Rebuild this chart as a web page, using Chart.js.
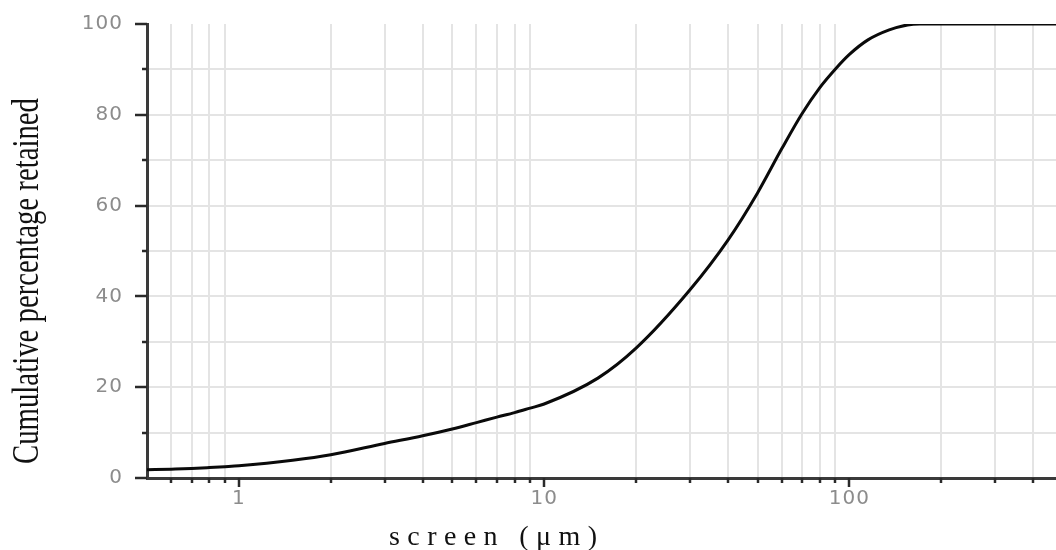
<!DOCTYPE html>
<html>
<head>
<meta charset="utf-8">
<script src="https://cdn.jsdelivr.net/npm/chart.js@4/dist/chart.umd.min.js"></script>
<style>
  html, body { margin: 0; padding: 0; background: #fff; overflow: hidden; }
  #wrap { width: 1056px; height: 550px; position: relative; }
</style>
</head>
<body>
<div id="wrap"><canvas id="c"></canvas></div>
<script>
// ---- data ----
const sizes = [0.5, 0.6, 0.7, 0.8, 0.9, 1, 1.5, 2, 3, 4, 5, 6, 7, 8, 9, 10, 15, 20, 30, 40, 50, 60, 70, 80, 90, 100, 115, 135, 155, 170, 200, 300, 475];
const retained = [1.8, 1.95, 2.1, 2.3, 2.5, 2.7, 3.9, 5.1, 7.6, 9.3, 10.8, 12.2, 13.4, 14.4, 15.4, 16.3, 22.0, 28.6, 41.4, 52.4, 62.8, 72.5, 80.3, 86.0, 90.1, 93.3, 96.5, 98.7, 99.8, 100, 100, 100, 100];
const xMajorTicks = [1, 10, 100];
const xMinorTicks = [0.6, 0.7, 0.8, 0.9, 2, 3, 4, 5, 6, 7, 8, 9, 20, 30, 40, 50, 60, 70, 80, 90, 200, 300, 400];
const yTicks = [0, 10, 20, 30, 40, 50, 60, 70, 80, 90, 100];
const yLabelStep = 20;
const xTitle = 'screen (\u03bcm)';
const yTitle = 'Cumulative percentage retained';

const xTickList = xMajorTicks.concat(xMinorTicks).sort((a, b) => a - b);

const tickMarks = {
  id: 'tickMarks',
  beforeDraw(chart) { chart.ctx.letterSpacing = '1px'; },
  afterDraw(chart) {
    const ctx = chart.ctx;
    ctx.letterSpacing = '0px';
    const xs = chart.scales.x, ys = chart.scales.y;
    const area = chart.chartArea;
    ctx.save();
    ctx.strokeStyle = '#2a2a2a';
    ctx.lineWidth = 2.5;
    xTickList.forEach(v => {
      const px = Math.round(xs.getPixelForValue(v));
      const len = xMajorTicks.includes(v) ? 9 : 5;
      ctx.beginPath();
      ctx.moveTo(px, area.bottom);
      ctx.lineTo(px, area.bottom + len);
      ctx.stroke();
    });
    yTicks.forEach(v => {
      const py = Math.round(ys.getPixelForValue(v));
      const len = (v % yLabelStep === 0) ? 12 : 5;
      ctx.beginPath();
      ctx.moveTo(area.left, py);
      ctx.lineTo(area.left - len, py);
      ctx.stroke();
    });
    ctx.restore();

    // axis titles
    ctx.save();
    ctx.fillStyle = '#111';
    ctx.font = '37px "Liberation Serif", "Times New Roman", serif';
    const w = ctx.measureText(yTitle).width;
    ctx.translate(38, 281);
    ctx.rotate(-Math.PI / 2);
    ctx.scale(366 / w, 1);
    ctx.textAlign = 'center';
    ctx.textBaseline = 'alphabetic';
    ctx.fillText(yTitle, 0, 0);
    ctx.restore();

    ctx.save();
    ctx.fillStyle = '#111';
    ctx.font = '28px "Liberation Serif", "Times New Roman", serif';
    const w2 = ctx.measureText(xTitle).width;
    const n = xTitle.length;
    const sp = Math.max(0, (208 - w2) / (n - 1));
    ctx.letterSpacing = sp.toFixed(2) + 'px';
    ctx.textAlign = 'left';
    ctx.textBaseline = 'alphabetic';
    ctx.fillText(xTitle, 389, 545);
    ctx.restore();
  }
};

new Chart(document.getElementById('c'), {
  type: 'line',
  data: {
    datasets: [{
      data: sizes.map((s, i) => ({ x: s, y: retained[i] })),
      borderColor: '#0a0a0a',
      borderWidth: 3,
      pointRadius: 0,
      fill: false,
      cubicInterpolationMode: 'monotone'
    }]
  },
  options: {
    responsive: true,
    maintainAspectRatio: false,
    animation: false,
    layout: { padding: { left: 0, top: 24, right: 0, bottom: 0 } },
    plugins: { legend: { display: false }, tooltip: { enabled: false } },
    scales: {
      x: {
        type: 'logarithmic',
        min: 0.5,
        max: 475,
        afterBuildTicks(scale) { scale.ticks = xTickList.map(v => ({ value: v, major: xMajorTicks.includes(v) })); },
        afterFit(scale) { scale.height = 72; scale.paddingLeft = 0; scale.paddingRight = 0; },
        grid: {
          drawTicks: false,
          lineWidth: 2,
          color: c => (c.tick && xMajorTicks.includes(c.tick.value)) ? 'rgba(0,0,0,0)' : '#e4e4e4'
        },
        border: { display: true, color: '#3a3a3a', width: 3 },
        ticks: {
          autoSkip: false,
          maxRotation: 0,
          padding: 9,
          color: '#8c8c8c',
          font: { family: '"DejaVu Sans", sans-serif', size: 20 },
          callback: v => xMajorTicks.includes(v) ? String(v) : ''
        }
      },
      y: {
        type: 'linear',
        min: 0,
        max: 100,
        afterBuildTicks(scale) { scale.ticks = yTicks.map(v => ({ value: v })); },
        afterFit(scale) { scale.width = 147; scale.paddingTop = 0; scale.paddingBottom = 0; },
        grid: {
          drawTicks: false,
          lineWidth: 2,
          color: c => (c.tick && (c.tick.value === 0 || c.tick.value === 100)) ? 'rgba(0,0,0,0)' : '#e4e4e4'
        },
        border: { display: true, color: '#3a3a3a', width: 3 },
        ticks: {
          padding: 24,
          color: '#8c8c8c',
          font: { family: '"DejaVu Sans", sans-serif', size: 20 },
          callback: v => (v % yLabelStep === 0) ? String(v) : ''
        }
      }
    }
  },
  plugins: [tickMarks]
});
</script>
</body>
</html>
